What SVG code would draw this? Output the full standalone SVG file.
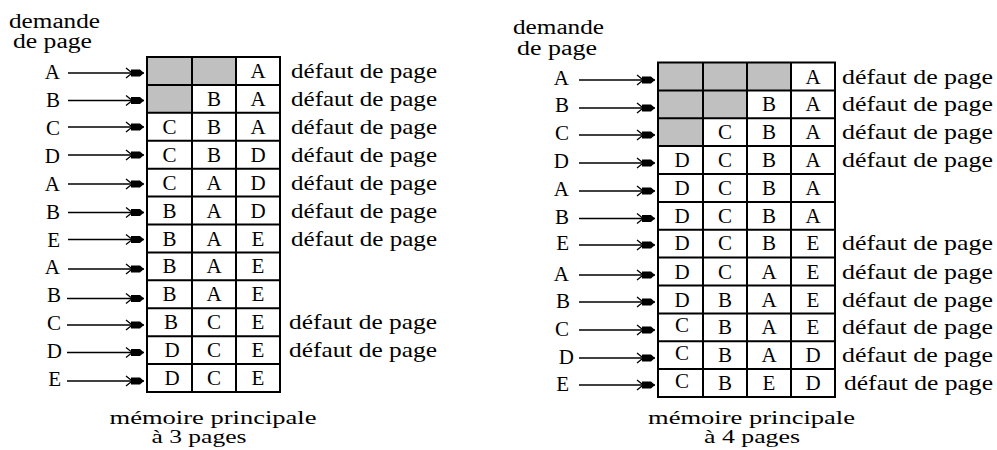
<svg xmlns="http://www.w3.org/2000/svg" width="997" height="450" viewBox="0 0 997 450">
<style>
text{font-family:"Liberation Serif","Times New Roman",serif;font-size:20px;fill:#000}
.c{font-size:21px;text-anchor:middle}
.l{text-anchor:end;font-size:21px}
.d{font-size:22px}
.cap{font-size:18px}
.grid{fill:none;stroke:#000;stroke-width:2}
.g{fill:#c0c0c0}
.arr{stroke:#000;stroke-width:1.5;marker-end:url(#ah)}
</style>
<defs>
<marker id="ah" markerUnits="userSpaceOnUse" markerWidth="20" markerHeight="14" refX="18" refY="7" orient="auto" overflow="visible">
<path d="M5 3.5 L14 3.5 L18 7 L14 10.5 L5 10.5 Z" fill="#000"/>
<path d="M0 2 L5 6 M0 12 L5 8" stroke="#000" stroke-width="1.3" fill="none"/>
</marker>
</defs>
<rect width="997" height="450" fill="#fff"/>

<g id="left-diagram">
<text x="9" y="28" textLength="91" lengthAdjust="spacingAndGlyphs">demande</text>
<text x="13" y="48" textLength="79" lengthAdjust="spacingAndGlyphs">de page</text>
<g id="left-grid">
<rect class="g" x="147" y="57" width="45" height="28"/>
<rect class="g" x="192" y="57" width="44" height="28"/>
<rect class="g" x="147" y="85" width="45" height="28"/>
<rect class="grid" x="147" y="57" width="133" height="335"/>
<path class="grid" d="M192 57V392M236 57V392M147 84.9H280M147 112.8H280M147 140.8H280M147 168.7H280M147 196.6H280M147 224.5H280M147 252.4H280M147 280.3H280M147 308.3H280M147 336.2H280M147 364.1H280"/>
</g>
<g id="left-r0" transform="translate(0,57)"><text class="l" x="60" y="22">A</text><text class="c" x="258" y="21">A</text><text class="d" x="291" y="21" textLength="146" lengthAdjust="spacingAndGlyphs">défaut de page</text></g>
<g id="left-r1" transform="translate(0,84.9)"><text class="l" x="60" y="22">B</text><text class="c" x="214" y="21">B</text><text class="c" x="258" y="21">A</text><text class="d" x="291" y="21" textLength="146" lengthAdjust="spacingAndGlyphs">défaut de page</text></g>
<g id="left-r2" transform="translate(0,112.8)"><text class="l" x="60" y="22">C</text><text class="c" x="169.5" y="21">C</text><text class="c" x="214" y="21">B</text><text class="c" x="258" y="21">A</text><text class="d" x="291" y="21" textLength="146" lengthAdjust="spacingAndGlyphs">défaut de page</text></g>
<g id="left-r3" transform="translate(0,140.8)"><text class="l" x="60" y="22">D</text><text class="c" x="169.5" y="21">C</text><text class="c" x="214" y="21">B</text><text class="c" x="258" y="21">D</text><text class="d" x="291" y="21" textLength="146" lengthAdjust="spacingAndGlyphs">défaut de page</text></g>
<g id="left-r4" transform="translate(0,168.7)"><text class="l" x="60" y="22">A</text><text class="c" x="169.5" y="21">C</text><text class="c" x="214" y="21">A</text><text class="c" x="258" y="21">D</text><text class="d" x="291" y="21" textLength="146" lengthAdjust="spacingAndGlyphs">défaut de page</text></g>
<g id="left-r5" transform="translate(0,196.6)"><text class="l" x="60" y="22">B</text><text class="c" x="169.5" y="21">B</text><text class="c" x="214" y="21">A</text><text class="c" x="258" y="21">D</text><text class="d" x="291" y="21" textLength="146" lengthAdjust="spacingAndGlyphs">défaut de page</text></g>
<g id="left-r6" transform="translate(0,224.5)"><text class="l" x="60" y="22">E</text><text class="c" x="169.5" y="21">B</text><text class="c" x="214" y="21">A</text><text class="c" x="258" y="21">E</text><text class="d" x="291" y="21" textLength="146" lengthAdjust="spacingAndGlyphs">défaut de page</text></g>
<g id="left-r7" transform="translate(0,252.4)"><text class="l" x="60" y="22">A</text><text class="c" x="169.5" y="21">B</text><text class="c" x="214" y="21">A</text><text class="c" x="258" y="21">E</text></g>
<g id="left-r8" transform="translate(0,280.3)"><text class="l" x="61" y="22">B</text><text class="c" x="169.5" y="21">B</text><text class="c" x="214" y="21">A</text><text class="c" x="258" y="21">E</text></g>
<g id="left-r9" transform="translate(0,308.3)"><text class="l" x="61" y="22">C</text><text class="c" x="171" y="21">B</text><text class="c" x="214" y="21">C</text><text class="c" x="258" y="21">E</text><text class="d" x="289" y="21" textLength="148" lengthAdjust="spacingAndGlyphs">défaut de page</text></g>
<g id="left-r10" transform="translate(0,336.2)"><text class="l" x="62" y="22">D</text><text class="c" x="172" y="21">D</text><text class="c" x="214" y="21">C</text><text class="c" x="258" y="21">E</text><text class="d" x="289" y="21" textLength="148" lengthAdjust="spacingAndGlyphs">défaut de page</text></g>
<g id="left-r11" transform="translate(0,364.1)"><text class="l" x="61" y="22">E</text><text class="c" x="172" y="21">D</text><text class="c" x="214" y="21">C</text><text class="c" x="258" y="21">E</text></g>
<text class="cap" x="213" y="424" text-anchor="middle" textLength="207" lengthAdjust="spacingAndGlyphs">mémoire principale</text>
<text class="cap" x="199" y="443" text-anchor="middle" textLength="95" lengthAdjust="spacingAndGlyphs">à 3 pages</text>
</g>

<g id="right-diagram">
<text x="513" y="34" textLength="91" lengthAdjust="spacingAndGlyphs">demande</text>
<text x="517" y="55" textLength="80" lengthAdjust="spacingAndGlyphs">de page</text>
<g id="right-grid">
<rect class="g" x="658" y="62.5" width="45" height="28"/>
<rect class="g" x="703" y="62.5" width="44" height="28"/>
<rect class="g" x="747" y="62.5" width="44" height="28"/>
<rect class="g" x="658" y="90.4" width="45" height="28"/>
<rect class="g" x="703" y="90.4" width="44" height="28"/>
<rect class="g" x="658" y="118.3" width="45" height="28"/>
<rect class="grid" x="658" y="62.5" width="177" height="334.5"/>
<path class="grid" d="M703 62.5V397M747 62.5V397M791 62.5V397M658 90.4H835M658 118.3H835M658 146.1H835M658 174H835M658 201.9H835M658 229.8H835M658 257.6H835M658 285.5H835M658 313.4H835M658 341.3H835M658 369.1H835"/>
</g>
<g id="right-r0" transform="translate(0,62.5)"><text class="l" x="569" y="22">A</text><text class="c" x="813" y="21">A</text><text class="d" x="842" y="21" textLength="151" lengthAdjust="spacingAndGlyphs">défaut de page</text></g>
<g id="right-r1" transform="translate(0,90.4)"><text class="l" x="569" y="22">B</text><text class="c" x="769" y="21">B</text><text class="c" x="813" y="21">A</text><text class="d" x="842" y="21" textLength="151" lengthAdjust="spacingAndGlyphs">défaut de page</text></g>
<g id="right-r2" transform="translate(0,118.3)"><text class="l" x="569" y="22">C</text><text class="c" x="725" y="21">C</text><text class="c" x="769" y="21">B</text><text class="c" x="813" y="21">A</text><text class="d" x="842" y="21" textLength="151" lengthAdjust="spacingAndGlyphs">défaut de page</text></g>
<g id="right-r3" transform="translate(0,146.1)"><text class="l" x="569" y="22">D</text><text class="c" x="682" y="21">D</text><text class="c" x="725" y="21">C</text><text class="c" x="769" y="21">B</text><text class="c" x="813" y="21">A</text><text class="d" x="842" y="21" textLength="151" lengthAdjust="spacingAndGlyphs">défaut de page</text></g>
<g id="right-r4" transform="translate(0,174)"><text class="l" x="569" y="22">A</text><text class="c" x="682" y="21">D</text><text class="c" x="725" y="21">C</text><text class="c" x="769" y="21">B</text><text class="c" x="813" y="21">A</text></g>
<g id="right-r5" transform="translate(0,201.9)"><text class="l" x="569" y="22">B</text><text class="c" x="682" y="21">D</text><text class="c" x="725" y="21">C</text><text class="c" x="769" y="21">B</text><text class="c" x="813" y="21">A</text></g>
<g id="right-r6" transform="translate(0,229.8)"><text class="l" x="569" y="20">E</text><text class="c" x="682" y="20">D</text><text class="c" x="725" y="20">C</text><text class="c" x="769" y="20">B</text><text class="c" x="813" y="20">E</text><text class="d" x="842" y="20" textLength="151" lengthAdjust="spacingAndGlyphs">défaut de page</text></g>
<g id="right-r7" transform="translate(0,257.6)"><text class="l" x="569" y="23">A</text><text class="c" x="682" y="21">D</text><text class="c" x="725" y="21">C</text><text class="c" x="769" y="21">A</text><text class="c" x="813" y="21">E</text><text class="d" x="842" y="21" textLength="151" lengthAdjust="spacingAndGlyphs">défaut de page</text></g>
<g id="right-r8" transform="translate(0,285.5)"><text class="l" x="570" y="22">B</text><text class="c" x="682" y="21">D</text><text class="c" x="725" y="21">B</text><text class="c" x="769" y="21">A</text><text class="c" x="813" y="21">E</text><text class="d" x="842" y="21" textLength="151" lengthAdjust="spacingAndGlyphs">défaut de page</text></g>
<g id="right-r9" transform="translate(0,313.4)"><text class="l" x="569" y="23">C</text><text class="c" x="682" y="19">C</text><text class="c" x="725" y="21">B</text><text class="c" x="769" y="21">A</text><text class="c" x="813" y="21">E</text><text class="d" x="842" y="21" textLength="151" lengthAdjust="spacingAndGlyphs">défaut de page</text></g>
<g id="right-r10" transform="translate(0,341.3)"><text class="l" x="574" y="23">D</text><text class="c" x="682" y="19">C</text><text class="c" x="725" y="21">B</text><text class="c" x="769" y="21">A</text><text class="c" x="813" y="21">D</text><text class="d" x="842" y="21" textLength="151" lengthAdjust="spacingAndGlyphs">défaut de page</text></g>
<g id="right-r11" transform="translate(0,369.1)"><text class="l" x="569" y="22">E</text><text class="c" x="682" y="19">C</text><text class="c" x="725" y="21">B</text><text class="c" x="769" y="21">E</text><text class="c" x="813" y="21">D</text><text class="d" x="844" y="21" textLength="149" lengthAdjust="spacingAndGlyphs">défaut de page</text></g>
<text class="cap" x="751.5" y="424" text-anchor="middle" textLength="207" lengthAdjust="spacingAndGlyphs">mémoire principale</text>
<text class="cap" x="752" y="443" text-anchor="middle" textLength="96" lengthAdjust="spacingAndGlyphs">à 4 pages</text>
</g>

<g id="connectors">
<line class="arr" x1="68" y1="73" x2="144" y2="73"/>
<line class="arr" x1="68" y1="100.5" x2="144" y2="100.5"/>
<line class="arr" x1="68" y1="127" x2="144" y2="127"/>
<line class="arr" x1="68" y1="155" x2="144" y2="155"/>
<line class="arr" x1="68" y1="184" x2="144" y2="184"/>
<line class="arr" x1="68" y1="212.5" x2="144" y2="212.5"/>
<line class="arr" x1="68" y1="239.5" x2="144" y2="239.5"/>
<line class="arr" x1="68" y1="269" x2="144" y2="269"/>
<line class="arr" x1="67" y1="298.5" x2="144" y2="298.5"/>
<line class="arr" x1="67" y1="325" x2="144" y2="325"/>
<line class="arr" x1="67" y1="352.5" x2="144" y2="352.5"/>
<line class="arr" x1="67" y1="381" x2="144" y2="381"/>
<line class="arr" x1="579" y1="80" x2="655" y2="80"/>
<line class="arr" x1="579" y1="108" x2="655" y2="108"/>
<line class="arr" x1="579" y1="135" x2="655" y2="135"/>
<line class="arr" x1="579" y1="163" x2="655" y2="163"/>
<line class="arr" x1="579" y1="191" x2="655" y2="191"/>
<line class="arr" x1="579" y1="218.5" x2="655" y2="218.5"/>
<line class="arr" x1="579" y1="245" x2="655" y2="245"/>
<line class="arr" x1="579" y1="275" x2="655" y2="275"/>
<line class="arr" x1="579" y1="302" x2="655" y2="302"/>
<line class="arr" x1="579" y1="330" x2="655" y2="330"/>
<line class="arr" x1="579" y1="358" x2="655" y2="358"/>
<line class="arr" x1="579" y1="385" x2="655" y2="385"/>
</g>
</svg>
